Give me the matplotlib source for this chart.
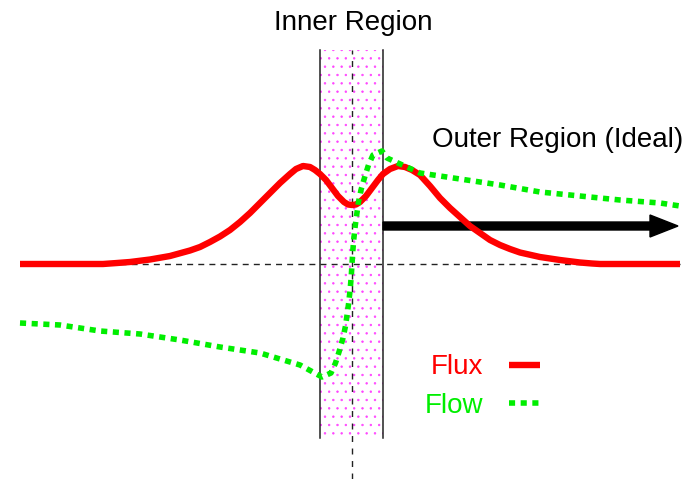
import matplotlib
matplotlib.use("Agg")
import matplotlib.pyplot as plt
from matplotlib.patches import Rectangle

plt.rcParams["font.family"] = ["Liberation Sans", "DejaVu Sans"]
plt.rcParams["hatch.linewidth"] = 0.5

# Position across the slab (0 = centre line) and the two profiles
flux_x = [-332, -249, -235, -222, -202, -182, -162, -152, -142, -132, -122,
          -112, -102, -92, -82, -72, -62, -56, -49, -42, -37, -32, -26, -20,
          -14, -8, -4, 0, 4, 8, 14, 20, 26, 31, 38, 46, 53, 60, 68, 78, 88,
          98, 108, 118, 128, 138, 148, 158, 168, 188, 208, 228, 240, 248, 328]
flux_y = [0, 0, 1, 2, 4.5, 8, 13.5, 17, 22, 27.5, 34,
          42, 51, 61, 71, 81, 90, 95, 98, 97, 94, 90, 84, 76,
          68, 62, 59.5, 59, 59.5, 62, 68, 76, 84, 90, 95, 98, 97, 94, 89, 78, 66,
          56, 47, 38, 31, 24, 19, 15, 11.5, 7, 4, 1.5, 0.5, 0, 0]

flow_x = [-332, -292, -252, -212, -172, -132, -92, -52, -30, -21, -16.5, -13,
          -9, -6.5, -4.8, -3.2, -1.8, -0.8, 0, 0.8, 1.8, 3.2, 4.8, 6.5,
          9, 13, 16.5, 21, 30, 35, 68, 108, 148, 188, 228, 268, 308, 328]
flow_y = [-59, -61, -67, -70, -76, -83, -89, -101, -113, -109, -99, -88,
          -74, -62, -50, -38, -25, -13, 0, 13, 25, 38, 50, 62,
          74, 88, 99, 109, 113, 106, 91, 85, 79, 72, 68, 64, 61, 58]

# Slab walls and extents
wall_left, wall_right = -32, 31
wall_bottom, wall_top = -174, 214
arrow_start, arrow_end, arrow_level = 31, 326, 38

fig = plt.figure(figsize=(6.84, 4.79), dpi=100)
ax = fig.add_axes([0, 0, 1, 1])
ax.set_xlim(-352, 332)
ax.set_ylim(-215, 264)
ax.axis("off")

# dotted pink slab
ax.add_patch(Rectangle((wall_left, wall_bottom), wall_right - wall_left,
                       wall_top - wall_bottom, facecolor="white",
                       edgecolor="#ff44ff", linewidth=0, hatch="..", zorder=1))
ax.plot([wall_left, wall_left], [wall_bottom, wall_top], color="#222222", lw=1.1, zorder=2)
ax.plot([wall_right, wall_right], [wall_bottom, wall_top], color="#222222", lw=1.1, zorder=2)
ax.plot([0, 0], [-215, wall_top], color="#222222", lw=1.0, dashes=(4.3, 4.7), zorder=2)
ax.plot([-332, 328], [0, 0], color="#222222", lw=1.0, dashes=(4.3, 3.7), zorder=2)

ax.arrow(arrow_start, arrow_level, arrow_end - arrow_start, 0, width=8,
         head_width=22, head_length=28, length_includes_head=True,
         color="black", zorder=3)

ax.plot(flux_x, flux_y, color="#ff0000", lw=4.6, solid_capstyle="butt",
        solid_joinstyle="round", label="Flux", zorder=4)
ax.plot(flow_x, flow_y, color="#00ee00", lw=4.0, dashes=(1.1, 1.0),
        dash_capstyle="butt", label="Flow", zorder=5)

ax.text(1, 234, "Inner Region", fontsize=20, ha="center", va="baseline")
ax.text(80, 117, "Outer Region (Ideal)", fontsize=20, ha="left", va="baseline")

ax.legend(loc="upper left", bbox_to_anchor=(0.621, 0.26), frameon=False,
          markerfirst=False, labelcolor="linecolor", fontsize=20,
          handlelength=1.12, handletextpad=0.94, labelspacing=0.44,
          borderpad=0, borderaxespad=0)

fig.savefig("out.png", dpi=100)
